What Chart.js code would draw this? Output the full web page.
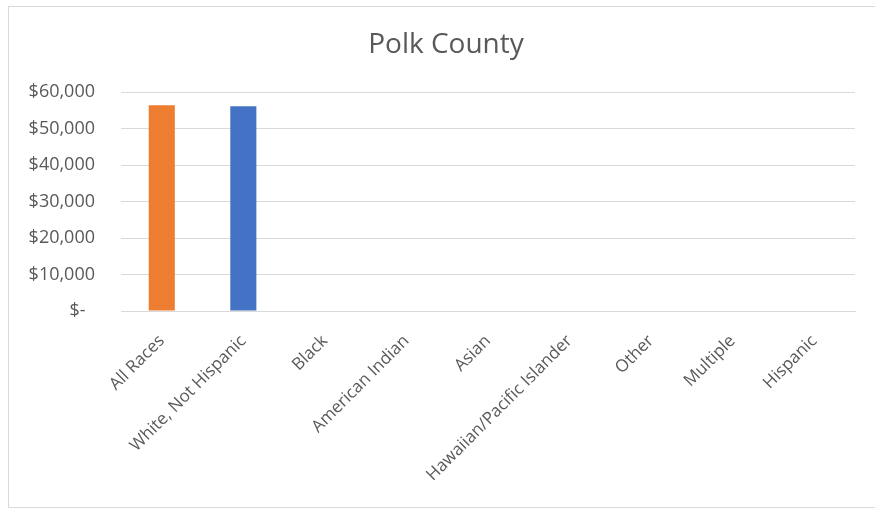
<!DOCTYPE html>
<html>
<head>
<meta charset="utf-8">
<script src="https://cdn.jsdelivr.net/npm/chart.js@4/dist/chart.umd.min.js"></script>
<style>
	html, body { margin: 0; padding: 0; background: #fff; }
	.chart-box {
		position: absolute;
		left: 8px;
		top: 6px;
		width: 880px;
		height: 502px;
		box-sizing: border-box;
		border: 1px solid #d9d9d9;
	}
	.chart-box canvas { display: block; }
</style>
</head>
<body>
<div class="chart-box">
	<canvas id="polkChart" width="878" height="500"></canvas>
</div>
<script>
// категории и значения (доход по расе)
const chartTitle = "Polk County";
const categories = [
	"All Races",
	"White, Not Hispanic",
	"Black",
	"American Indian",
	"Asian",
	"Hawaiian/Pacific Islander",
	"Other",
	"Multiple",
	"Hispanic",
];
const incomeValues = [56400, 56100, null, null, null, null, null, null, null];
const barColors = ["#ED7D31", "#4472C4", "#A5A5A5", "#FFC000", "#5B9BD5", "#70AD47", "#264478", "#9E480E", "#636363"];
const yTicks = [0, 10000, 20000, 30000, 40000, 50000, 60000];

const textColor = "#595959";
const fontFamily = "'Open Sans', 'Segoe UI', sans-serif";

// формат как в Excel (бухгалтерский): "$-  " для нуля
function moneyLabel(v) {
	if (v === 0) return "$-  ";
	return "$" + v.toLocaleString("en-US");
}

// заголовок по центру всей рамки, а не области графика
const centerTitle = {
	id: "centerTitle",
	afterDraw(chart) {
		const c = chart.ctx;
		c.save();
		c.font = "400 28px " + fontFamily;
		c.fillStyle = textColor;
		c.textAlign = "center";
		c.textBaseline = "middle";
		c.fillText(chartTitle, 437, 38);
		c.restore();
	},
};

const ctx = document.getElementById("polkChart");

const polkChart = new Chart(ctx, {
	type: "bar",
	data: {
		labels: categories,
		datasets: [
			{
				label: chartTitle,
				data: incomeValues,
				backgroundColor: barColors,
				categoryPercentage: 1,
				barPercentage: 0.32,
			},
		],
	},
	plugins: [centerTitle],
	options: {
		responsive: false,
		animation: false,
		layout: {
			padding: { left: 0, right: 32, top: 85, bottom: 0 },
		},
		plugins: {
			legend: { display: false },
			tooltip: { enabled: false },
			title: { display: false },
		},
		scales: {
			x: {
				grid: { display: false, drawTicks: false },
				border: { display: true, color: "#d9d9d9", width: 1 },
				ticks: {
					color: textColor,
					font: { family: fontFamily, size: 17 },
					minRotation: 45,
					maxRotation: 45,
					padding: 20,
					autoSkip: false,
				},
				afterFit(scale) {
					scale.height = 196;
				},
			},
			y: {
				min: 0,
				max: 60000,
				afterBuildTicks(scale) {
					scale.ticks = yTicks.map((v) => ({ value: v }));
				},
				grid: { color: "#d9d9d9", drawTicks: false },
				border: { display: false },
				ticks: {
					color: textColor,
					font: { family: fontFamily, size: 18 },
					padding: 26,
					callback: (v) => moneyLabel(v),
				},
				afterFit(scale) {
					scale.width = 112;
				},
			},
		},
	},
});
</script>
</body>
</html>
